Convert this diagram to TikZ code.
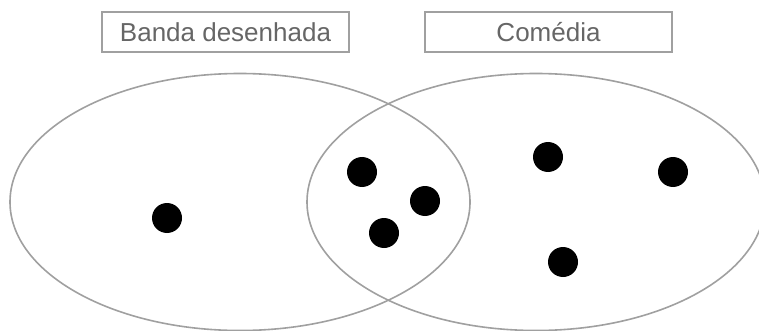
\documentclass[tikz,border=0pt]{standalone}
\usepackage{fontspec}
\setmainfont{Liberation Sans}
\usetikzlibrary{shapes.geometric}
\definecolor{linegray}{HTML}{A0A0A0}
\definecolor{textgray}{HTML}{666666}
\tikzset{
  setellipse/.style={draw=linegray, line width=1.6pt, ellipse, inner sep=0pt},
  labelbox/.style={draw=linegray, line width=1.4pt, minimum width=247pt, minimum height=40pt, inner sep=0pt, text=textgray, font=\fontsize{26}{29}\selectfont},
  member/.style={circle, fill=black, minimum size=30pt, inner sep=0pt}
}
\begin{document}
\begin{tikzpicture}[x=1pt,y=-1pt]
\useasboundingbox (0,0) rectangle (759,331);
\node[setellipse, minimum width=460pt, minimum height=257pt] (left) at (240,202) {};
\node[setellipse, minimum width=458pt, minimum height=257pt] (right) at (536,202) {};
\node[labelbox] (lbl1) at (225.5,32) {Banda desenhada};
\node[labelbox] (lbl2) at (548.5,32) {Comédia};
\node[member] (d1) at (167,218) {};
\node[member] (d2) at (362,172) {};
\node[member] (d3) at (425,201) {};
\node[member] (d4) at (384,233) {};
\node[member] (d5) at (548,157) {};
\node[member] (d6) at (673,172) {};
\node[member] (d7) at (563,262) {};
\end{tikzpicture}
\end{document}
